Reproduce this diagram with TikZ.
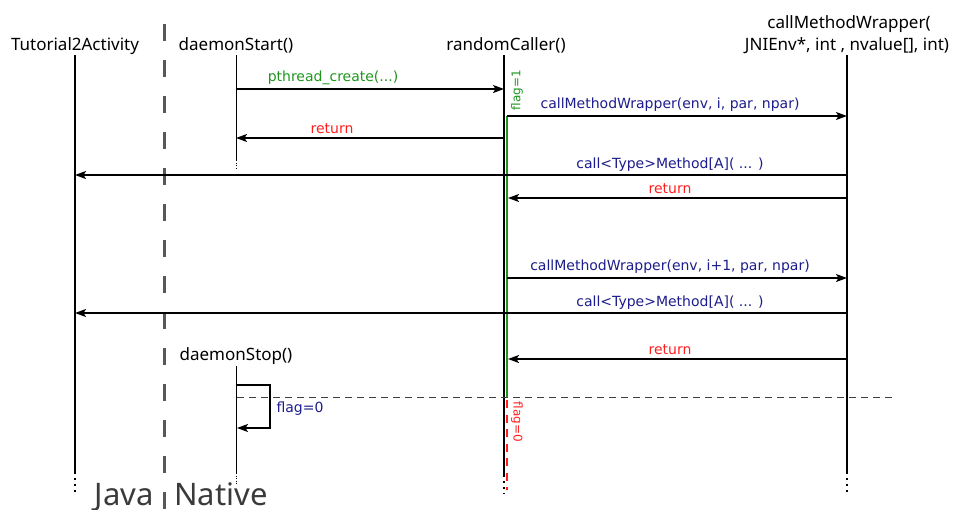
\documentclass[tikz,border=0pt]{standalone}
\usepackage{fontspec}
\setmainfont{Noto Sans}
\newfontfamily\msgfont{DejaVu Sans}
\usetikzlibrary{arrows.meta}
\definecolor{msgblue}{RGB}{28,28,140}
\definecolor{msggreen}{RGB}{30,150,30}
\definecolor{msgred}{RGB}{255,30,30}
\definecolor{divgray}{RGB}{88,88,88}
\definecolor{bigtext}{RGB}{58,58,58}

\begin{document}
\begin{tikzpicture}[x=1pt,y=-1pt,
  head/.style={font=\fontsize{17}{22}\selectfont, anchor=base, inner sep=0pt},
  msg/.style={font=\msgfont\fontsize{14}{16}\selectfont, anchor=base, inner sep=0pt},
  flagtxt/.style={font=\msgfont\fontsize{12}{14}\selectfont, inner sep=0pt},
  life/.style={line width=1.8pt},
  thinlife/.style={line width=0.9pt},
  tail/.style={line width=1.6pt, dash pattern=on 1.6pt off 4.4pt},
  thintail/.style={line width=0.9pt, dash pattern=on 1pt off 1.5pt},
  call/.style={line width=1.4pt, -{Stealth[length=11pt,width=8pt,inset=2.5pt]}},
  side/.style={font=\fontsize{31}{36}\selectfont, text=bigtext, inner sep=0pt}]
\useasboundingbox (0,0) rectangle (953,509);

% Java / Native boundary
\draw[divgray, line width=3pt, dash pattern=on 17pt off 19pt] (164,24) -- (164,509);
\node[side, anchor=base east] (java) at (154,505) {Java};
\node[side, anchor=base west] (native) at (174,505) {Native};

% lifeline heads
\node[head] (tut) at (75,50) {Tutorial2Activity};
\node[head] (dstart) at (236,50) {daemonStart()};
\node[head] (rcaller) at (506,50) {randomCaller()};
\node[head] (cmwA) at (849,28) {callMethodWrapper(};
\node[head] (cmwB) at (847,50) {JNIEnv*, int , nvalue[], int)};
\node[head] (dstop) at (236,360) {daemonStop()};

% lifelines
\coordinate (tutTop) at (75,55);   \coordinate (tutEnd) at (75,472);  \coordinate (tutTail) at (75,492);
\coordinate (dsTop) at (236,55);   \coordinate (dsEnd) at (236,160);  \coordinate (dsTail) at (236,169);
\coordinate (rcTop) at (504,55);   \coordinate (rcEnd) at (504,475); \coordinate (rcTail) at (504,494);
\coordinate (cmTop) at (847,55);   \coordinate (cmEnd) at (847,472); \coordinate (cmTail) at (847,492);
\coordinate (dpTop) at (236,366);  \coordinate (dpEnd) at (236,473); \coordinate (dpTail) at (236,484);

\draw[life] (tutTop) -- (tutEnd);  \draw[tail] (tutEnd) -- (tutTail);
\draw[thinlife] (dsTop) -- (dsEnd); \draw[thintail] (dsEnd) -- (dsTail);
\draw[life] (rcTop) -- (rcEnd);    \draw[tail] (rcEnd) -- (rcTail);
\draw[life] (cmTop) -- (cmEnd);    \draw[tail] (cmEnd) -- (cmTail);
\draw[thinlife] (dpTop) -- (dpEnd); \draw[thintail] (dpEnd) -- (dpTail);

% flag activity on randomCaller
\coordinate (actTop) at (507,116); \coordinate (actEnd) at (507,397);
\coordinate (offTop) at (507,400); \coordinate (offEnd) at (507,490);
\draw[msggreen, line width=2pt] (actTop) -- (actEnd);
\draw[msgred, line width=2.6pt, dash pattern=on 8pt off 6.5pt] (offTop) -- (offEnd);
\node[flagtxt, text=msggreen, rotate=90] (f1) at (517,90) {flag=1};
\node[flagtxt, text=msgred, rotate=-90] (f0) at (517,422) {flag=0};

% messages
\coordinate (a1) at (236,89);  \coordinate (b1) at (504,89);
\draw[call] (a1) -- (b1);
\node[msg, text=msggreen] (m1) at (333,81) {pthread\_create(...)};

\coordinate (a2) at (507,116); \coordinate (b2) at (847,116);
\draw[call] (a2) -- (b2);
\node[msg, text=msgblue] (m2) at (670,108) {callMethodWrapper(env, i, par, npar)};

\coordinate (a3) at (504,138); \coordinate (b3) at (236,138);
\draw[call] (a3) -- (b3);
\node[msg, text=msgred] (m3) at (332,133) {return};

\coordinate (a4) at (847,175); \coordinate (b4) at (75,175);
\draw[call] (a4) -- (b4);
\node[msg, text=msgblue] (m4) at (670,168) {call<Type>Method[A]( ... )};

\coordinate (a5) at (847,198); \coordinate (b5) at (508,198);
\draw[call] (a5) -- (b5);
\node[msg, text=msgred] (m5) at (670,193) {return};

\coordinate (a6) at (507,278); \coordinate (b6) at (847,278);
\draw[call] (a6) -- (b6);
\node[msg, text=msgblue] (m6) at (670,270) {callMethodWrapper(env, i+1, par, npar)};

\coordinate (a7) at (847,313); \coordinate (b7) at (75,313);
\draw[call] (a7) -- (b7);
\node[msg, text=msgblue] (m7) at (670,306) {call<Type>Method[A]( ... )};

\coordinate (a8) at (847,359); \coordinate (b8) at (508,359);
\draw[call] (a8) -- (b8);
\node[msg, text=msgred] (m8) at (670,354) {return};

% daemonStop clears the flag
\coordinate (s1) at (237,385); \coordinate (s2) at (270,385);
\coordinate (s3) at (270,428); \coordinate (s4) at (237,428);
\draw[call] (s1) -- (s2) -- (s3) -- (s4);
\node[msg, text=msgblue] (m9) at (300,412) {flag=0};

% cut line
\coordinate (cutL) at (237,397); \coordinate (cutR) at (893,397);
\draw[black!75, line width=0.8pt, dash pattern=on 7pt off 5pt] (cutL) -- (cutR);
\end{tikzpicture}
\end{document}
